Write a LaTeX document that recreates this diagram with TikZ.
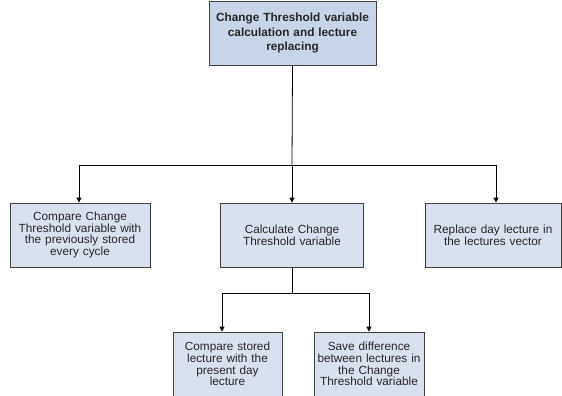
\documentclass[tikz,border=0pt]{standalone}
\usepackage{fontspec}
\setmainfont{Liberation Sans}
\usetikzlibrary{arrows.meta,positioning}
\definecolor{topfill}{HTML}{C8D4E8}
\definecolor{boxfill}{HTML}{DAE1EE}
\definecolor{edge}{HTML}{404040}
\begin{document}
\begin{tikzpicture}[x=1pt,y=-1pt,
  box/.style={draw=edge,line width=0.8pt,fill=boxfill,rectangle,inner sep=1pt,align=center,
    minimum height=64pt,font=\fontsize{11.8}{11.6}\selectfont,text=black!85},
  topbox/.style={box,fill=topfill,font=\bfseries\fontsize{11.8}{14.5}\selectfont},
  arr/.style={draw=black,line width=0.8pt,-{Triangle[length=5pt,width=5pt]}},
  ln/.style={draw=black,line width=0.8pt}]
\useasboundingbox (0,0) rectangle (562,396);
\node[topbox,minimum width=167pt,text width=163pt] (top) at (292.5,33) {Change Threshold variable\\calculation and lecture\\replacing};
\node[box,minimum width=140pt,text width=138pt] (left) at (80,235) {Compare Change\\Threshold variable with\\the previously stored\\every cycle};
\node[box,minimum width=143pt,text width=140pt] (mid) at (292,235) {Calculate Change\\Threshold variable};
\node[box,minimum width=136pt,text width=134pt] (right) at (493,235) {Replace day lecture in\\the lectures vector};
\node[box,minimum width=109pt,text width=107pt] (bl) at (227.5,364) {Compare stored\\lecture with the\\present day\\lecture};
\node[box,minimum width=110pt,text width=108pt] (br) at (369,364) {Save difference\\between lectures in\\the Change\\Threshold variable};
\coordinate (j1) at (292,165);
\coordinate (j2) at (292,293);
\draw[ln] (top.south) -- (j1);
\draw[arr] (j1) -| ([xshift=-1pt]left.north);
\draw[arr] (j1) -- (mid.north);
\draw[arr] (j1) -| ([xshift=3pt]right.north);
\draw[ln] (mid.south) -- (j2);
\draw[arr] (j2) -| ([xshift=-5.5pt]bl.north);
\draw[arr] (j2) -| (br.north);
\end{tikzpicture}
\end{document}
